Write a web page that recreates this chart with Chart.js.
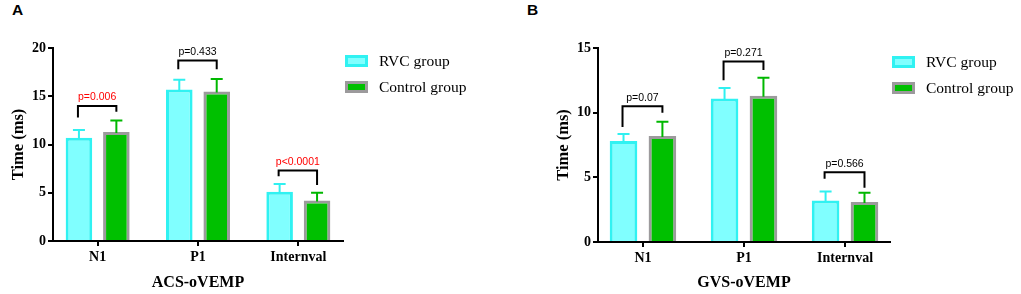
<!DOCTYPE html>
<html>
<head>
<meta charset="utf-8">
<script src="https://cdn.jsdelivr.net/npm/chart.js@4.4.0/dist/chart.umd.min.js"></script>
<style>
body { margin: 0; background: #fff; width: 1021px; height: 294px; overflow: hidden; position: relative; }
canvas { position: absolute; top: 0; }
#chartA { left: 0; }
#chartB { left: 510px; }
.panel { position: absolute; top: 1px; font: bold 15.5px "Liberation Sans", Arial, sans-serif; color: #000; }
</style>
</head>
<body>
<div class="panel" style="left:12px">A</div>
<div class="panel" style="left:527px">B</div>
<canvas id="chartA" width="510" height="294"></canvas>
<canvas id="chartB" width="511" height="294"></canvas>
<script>
const categories = ['N1', 'P1', 'Internval'];
const seriesNames = ['RVC group', 'Control group'];

// panel A - ACS-oVEMP
const acsRvc = [10.7, 15.7, 5.1];
const acsControl = [11.3, 15.5, 4.2];
const acsRvcUpper = [11.5, 16.7, 5.9];
const acsControlUpper = [12.5, 16.8, 5.0];
const acsPLabels = ['p=0.006', 'p=0.433', 'p<0.0001'];
const acsSignificant = [true, false, true];
const acsBracket = [14.0, 18.7, 7.3];
const acsBracketLeft = [12.8, 17.8, 6.7];
const acsBracketRight = [13.4, 17.8, 5.8];
const acsYMax = 20;

// panel B - GVS-oVEMP
const gvsRvc = [7.8, 11.1, 3.2];
const gvsControl = [8.2, 11.3, 3.1];
const gvsRvcUpper = [8.35, 11.9, 3.9];
const gvsControlUpper = [9.3, 12.7, 3.8];
const gvsPLabels = ['p=0.07', 'p=0.271', 'p=0.566'];
const gvsSignificant = [false, false, false];
const gvsBracket = [10.5, 13.95, 5.4];
const gvsBracketLeft = [8.9, 12.5, 4.9];
const gvsBracketRight = [10.0, 13.3, 4.2];
const gvsYMax = 15;
const yStep = 5;

const serifBold = (size) => ({ family: '"Liberation Serif", "Times New Roman", serif', weight: 'bold', size: size });

// error bars (upper whisker only) + significance brackets
const sigMarks = {
    id: 'sigMarks',
    afterDatasetsDraw(chart, args, opts) {
        const ctx = chart.ctx;
        const y = chart.scales.y;
        ctx.save();
        ctx.lineWidth = 2;
        chart.data.datasets.forEach((ds, i) => {
            const meta = chart.getDatasetMeta(i);
            ctx.strokeStyle = ds.errorColor;
            meta.data.forEach((bar, j) => {
                const top = y.getPixelForValue(opts.upper[i][j]);
                ctx.beginPath();
                ctx.moveTo(bar.x, bar.y + 1);
                ctx.lineTo(bar.x, top);
                ctx.moveTo(bar.x - 6, top);
                ctx.lineTo(bar.x + 6, top);
                ctx.stroke();
            });
        });
        const m0 = chart.getDatasetMeta(0).data;
        const m1 = chart.getDatasetMeta(1).data;
        ctx.strokeStyle = '#000';
        ctx.font = '10.5px "Liberation Sans", Arial, sans-serif';
        ctx.textAlign = 'center';
        ctx.textBaseline = 'middle';
        m0.forEach((bar, j) => {
            const xl = bar.x - 1, xr = m1[j].x;
            const yt = y.getPixelForValue(opts.bracket[j]);
            ctx.beginPath();
            ctx.moveTo(xl, y.getPixelForValue(opts.left[j]));
            ctx.lineTo(xl, yt);
            ctx.lineTo(xr, yt);
            ctx.lineTo(xr, y.getPixelForValue(opts.right[j]));
            ctx.stroke();
            ctx.fillStyle = opts.significant[j] ? '#ff0000' : '#000';
            ctx.fillText(opts.labels[j], (xl + xr) / 2, yt - 8.5);
        });
        ctx.restore();
    }
};

// legend to the right of the plot
const sideLegend = {
    id: 'sideLegend',
    afterDraw(chart, args, opts) {
        const ctx = chart.ctx;
        ctx.save();
        chart.data.datasets.forEach((ds, i) => {
            const bx = opts.x, by = opts.y + i * 26;
            ctx.fillStyle = ds.borderColor;
            ctx.fillRect(bx, by, 23, 12);
            ctx.fillStyle = ds.backgroundColor;
            ctx.fillRect(bx + 3, by + 3, 17, 6);
            ctx.fillStyle = '#000';
            ctx.font = '15.5px "Liberation Serif", "Times New Roman", serif';
            ctx.textBaseline = 'middle';
            ctx.textAlign = 'left';
            ctx.fillText(ds.label, bx + 34, by + 6.5);
        });
        ctx.restore();
    }
};

function makeChart(id, p) {
    const ctx = document.getElementById(id).getContext('2d');
    return new Chart(ctx, {
        type: 'bar',
        data: {
            labels: categories.map((c, i) => i),
            datasets: [{
                label: seriesNames[0],
                data: p.rvc,
                backgroundColor: '#80FFFF',
                borderColor: '#30F2F2',
                errorColor: '#30F0F0',
                borderWidth: 3,
                borderSkipped: 'start',
                categoryPercentage: p.catPct,
                barPercentage: 0.71
            }, {
                label: seriesNames[1],
                data: p.control,
                backgroundColor: '#00C000',
                borderColor: '#9C9A9C',
                errorColor: '#00B800',
                borderWidth: 3,
                borderSkipped: 'start',
                categoryPercentage: p.catPct,
                barPercentage: 0.71
            }]
        },
        options: {
            responsive: false,
            animation: false,
            events: [],
            layout: { padding: p.padding },
            scales: {
                x: {
                    type: 'linear',
                    offset: false,
                    min: -0.445,
                    max: 2.445,
                    afterBuildTicks: (s) => { s.ticks = categories.map((c, i) => ({ value: i })); },
                    afterFit: (s) => { s.height = p.xHeight; },
                    border: { color: '#000', width: 2 },
                    grid: { offset: false, drawOnChartArea: false, color: '#000', lineWidth: 2, tickLength: 5 },
                    ticks: {
                        color: '#000',
                        font: serifBold(14),
                        padding: 3,
                        maxRotation: 0,
                        autoSkip: false,
                        callback: (v) => categories[v]
                    },
                    title: {
                        display: true,
                        text: p.title,
                        color: '#000',
                        font: serifBold(16),
                        padding: { top: 0, bottom: 2 }
                    }
                },
                y: {
                    min: 0,
                    max: p.yMax,
                    afterFit: (s) => { s.width = 53; },
                    border: { color: '#000', width: 2 },
                    grid: { drawOnChartArea: false, color: '#000', lineWidth: 2, tickLength: 5 },
                    ticks: { stepSize: yStep, color: '#000', font: serifBold(14), padding: 2 },
                    title: {
                        display: true,
                        text: 'Time (ms)',
                        color: '#000',
                        font: serifBold(16.5),
                        padding: { top: 9, bottom: 0 }
                    }
                }
            },
            plugins: {
                legend: { display: false },
                tooltip: { enabled: false },
                sigMarks: {
                    upper: [p.rvcUpper, p.controlUpper],
                    labels: p.pLabels,
                    significant: p.significant,
                    bracket: p.bracket,
                    left: p.left,
                    right: p.right
                },
                sideLegend: p.legend
            }
        },
        plugins: [sigMarks, sideLegend]
    });
}

makeChart('chartA', {
    rvc: acsRvc, control: acsControl,
    rvcUpper: acsRvcUpper, controlUpper: acsControlUpper,
    pLabels: acsPLabels, significant: acsSignificant,
    bracket: acsBracket, left: acsBracketLeft, right: acsBracketRight,
    yMax: acsYMax, title: 'ACS-oVEMP', catPct: 0.746,
    padding: { top: 48, right: 167, left: 0, bottom: 0 },
    xHeight: 53,
    legend: { x: 345, y: 55 }
});

makeChart('chartB', {
    rvc: gvsRvc, control: gvsControl,
    rvcUpper: gvsRvcUpper, controlUpper: gvsControlUpper,
    pLabels: gvsPLabels, significant: gvsSignificant,
    bracket: gvsBracket, left: gvsBracketLeft, right: gvsBracketRight,
    yMax: gvsYMax, title: 'GVS-oVEMP', catPct: 0.77,
    padding: { top: 48, right: 131, left: 35, bottom: 0 },
    xHeight: 52,
    legend: { x: 382, y: 56 }
});
</script>
</body>
</html>
